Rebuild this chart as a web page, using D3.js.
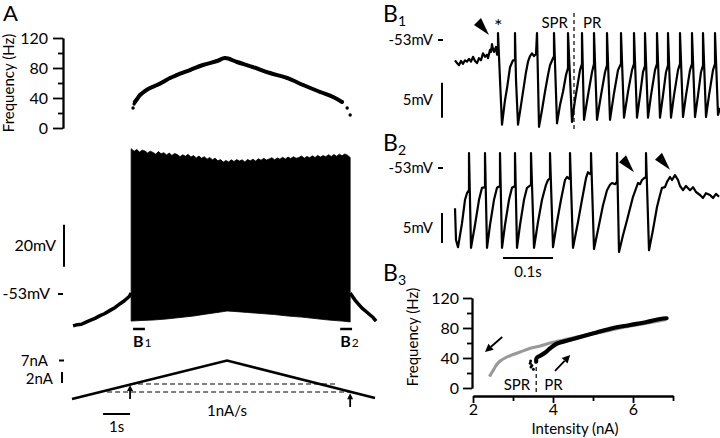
<!DOCTYPE html>
<html><head><meta charset="utf-8">
<script src="https://cdn.jsdelivr.net/npm/d3@7"></script>
<style>
body{margin:0;background:#fff}
svg{display:block}
text{font-family:Lato,"Open Sans",sans-serif;fill:#000}
</style>
</head><body>
<svg id="c" width="720" height="438"></svg>
<script>
// ================= DATA =================
// Panel A – instantaneous frequency (time s, Hz)
const freqTicks = [0, 40, 80, 120];
const freqMinorTicks = [20, 60, 100];
const aFreqT  = [2.26, 2.30, 2.33, 2.41, 2.52, 2.70, 2.89, 3.15, 3.37, 3.63, 3.89, 4.37, 4.85, 5.37, 5.67, 6.11, 6.70, 7.33, 7.96, 8.56, 9.19, 9.67, 10.0, 10.19, 10.30];
const aFreqHz = [26.7, 32, 34.7, 38.7, 44, 49.3, 53.3, 57.3, 61.3, 66.7, 70.7, 77.3, 84, 89.3, 93.3, 88, 81.3, 73.3, 66.7, 57.3, 48, 41.3, 34.7, 26.7, 17.3];
// Panel A – membrane potential (time s, mV)
const aPreT  = [0.04, 0.20, 0.35, 0.50, 0.67, 0.85, 1.04, 1.20, 1.41, 1.60, 1.78, 1.90, 2.00, 2.12, 2.19];
const aPreV  = [-68.2, -67.6, -67.4, -66.5, -65.6, -64.6, -63.3, -62.4, -60.8, -59.4, -57.6, -56.6, -55.5, -54.2, -52.5];
const aPostT = [10.30, 10.40, 10.48, 10.60, 10.74, 10.88, 11.04, 11.15, 11.26];
const aPostV = [-52.5, -54.4, -55.9, -57.7, -59.7, -61.2, -63.0, -64.2, -65.9];
const aTopT = [2.19, 2.3, 2.4, 2.5, 2.6, 2.7, 2.8, 2.9, 3.0, 3.1, 3.2, 3.3, 3.4, 3.5, 3.6, 3.7, 3.8, 3.9, 4.0, 4.1, 4.2, 4.3, 4.4, 4.5, 4.6, 4.7, 4.8, 4.9, 5.0, 5.1, 5.2, 5.3, 5.4, 5.5, 5.6, 5.7, 5.8, 5.9, 6.0, 6.1, 6.2, 6.3, 6.4, 6.5, 6.6, 6.7, 6.8, 6.9, 7.0, 7.1, 7.2, 7.3, 7.4, 7.5, 7.6, 7.7, 7.8, 7.9, 8.0, 8.1, 8.2, 8.3, 8.4, 8.5, 8.6, 8.7, 8.8, 8.9, 9.0, 9.1, 9.2, 9.3, 9.4, 9.5, 9.6, 9.7, 9.8, 9.9, 10.0, 10.1, 10.2, 10.3];
const aTopV = [16.2, 15.0, 15.8, 14.6, 15.5, 15.1, 14.2, 15.0, 14.4, 13.6, 14.8, 13.8, 14.3, 13.2, 14.1, 13.0, 13.9, 13.4, 12.4, 13.3, 12.6, 13.5, 12.2, 12.9, 11.8, 12.7, 11.6, 12.4, 11.2, 12.0, 10.9, 11.7, 10.4, 11.0, 9.8, 10.6, 9.9, 10.9, 10.1, 11.0, 10.3, 10.9, 9.9, 11.1, 10.4, 11.2, 10.3, 11.4, 10.7, 11.6, 10.8, 11.3, 11.9, 10.9, 11.8, 11.2, 12.1, 11.3, 12.2, 11.5, 12.4, 11.6, 12.0, 12.7, 11.7, 12.5, 11.9, 12.8, 12.0, 13.0, 12.2, 12.9, 12.4, 13.3, 12.5, 13.4, 12.6, 13.6, 12.8, 13.7, 13.1, 12.0];
const aBotT = [2.19, 2.6, 3.0, 3.5, 4.0, 4.5, 5.0, 5.5, 5.74, 6.0, 6.5, 7.0, 7.5, 8.0, 8.5, 9.0, 9.5, 10.0, 10.3];
const aBotV = [-65.9, -65.6, -65.4, -64.9, -64.2, -63.5, -62.5, -61.6, -61.1, -61.3, -61.8, -62.3, -62.8, -63.5, -64.0, -64.7, -65.4, -65.9, -66.3];
// Panel A – current ramp (time s, nA)
const rampT = [0, 5.74, 11.22];
const rampI = [0, 7, 0.18];
const dashT = [[2.15, 9.81], [1.30, 10.30]];
const dashI = [2.73, 1.27];
const arrowT = [2.15, 10.30];
const arrowFromI = [0, -1.45];
const arrowToI = [2.55, 1.05];
const bWindows = [[2.26, 2.70], [9.93, 10.37]];
const bWindowNames = ["B", "B"], bWindowSubs = ["1", "2"];

// Panel B1 trace (time ms, mV)
const b1T = [0,4,8,12,16,20,24,28,32,36,40,44,48,52,56,60,64,66,70,72,74,76,78,82,84,
  86,86,90,94,100,104,110,116,120,
  120,122,126,132,136,142,146,150,154,158,162,
  164,168,174,180,186,190,196,198,
  198,204,210,216,222,226,
  226,234,240,244,250,254,
  254,258,266,274,278,
  278,284,292,300,304,
  304,310,318,326,332,
  332,338,346,354,358,
  358,364,370,376,380,
  380,386,392,400,404,
  404,410,416,422,426,
  426,432,438,446,450,
  450,456,462,470,474,
  474,480,486,492,496,
  496,502,508,516,520,
  520,526,530];
const b1V = [-55.9,-56.3,-56.6,-56.0,-56.4,-55.9,-56.1,-55.7,-56.1,-55.4,-56.0,-56.3,-55.6,-55.9,-54.9,-55.4,-55.1,-55.6,-54.4,-54.7,-53.6,-54.3,-54.7,-54.0,-55.1,
  -55.1,-52.0,-58.7,-65.1,-61.6,-59.9,-56.9,-55.9,-55.9,
  -52.0,-58.7,-65.1,-62.3,-60.4,-57.6,-56.1,-55.3,-54.9,-55.3,-55.0,
  -52.0,-65.4,-63.0,-60.4,-58.0,-56.6,-55.6,-55.3,
  -52.0,-64.9,-62.3,-60.4,-58.0,-57.0,
  -52.0,-64.7,-61.6,-59.9,-57.3,-56.4,
  -52.0,-64.4,-60.9,-57.6,-56.4,
  -52.0,-64.4,-60.9,-57.6,-56.6,
  -52.0,-64.4,-60.6,-57.3,-56.4,
  -52.0,-64.1,-60.4,-57.3,-56.4,
  -52.0,-64.1,-60.9,-57.6,-56.7,
  -52.0,-64.1,-60.9,-57.3,-56.4,
  -52.0,-64.1,-60.9,-57.6,-56.6,
  -52.0,-64.1,-60.9,-57.3,-56.4,
  -52.0,-64.0,-60.9,-57.3,-56.4,
  -52.0,-64.0,-60.9,-57.6,-56.6,
  -52.0,-64.0,-60.9,-57.3,-56.4,
  -52.0,-63.7,-62.7];
// Panel B2 trace (time ms, mV)
const b2T = [0,2,6,14,20,24,28,28,
  32,40,48,54,60,60,
  64,70,78,84,90,90,
  94,100,108,114,120,120,
  124,130,138,144,152,152,
  158,166,174,182,186,190,190,
  196,204,212,220,224,228,230,230,
  236,246,254,262,266,270,272,272,
  278,288,296,304,310,314,320,324,324,
  328,336,344,356,366,370,374,378,382,382,
  388,396,404,410,414,420,424,430,434,440,446,450,456,462,470,476,482,490,496,502,510,516,522,528];
const b2V = [-59.7,-65.0,-66.2,-62.2,-58.3,-57.2,-56.7,-50.5,
  -66.3,-62.5,-58.3,-56.3,-56.2,-50.5,
  -66.3,-62.5,-58.3,-56.3,-56.0,-50.5,
  -66.3,-62.5,-58.3,-56.3,-56.0,-50.5,
  -66.3,-62.5,-58.3,-56.3,-55.8,-50.5,
  -66.3,-62.0,-58.3,-55.8,-55.0,-54.7,-50.5,
  -66.2,-62.0,-58.3,-55.0,-54.5,-54.8,-54.3,-50.5,
  -66.3,-62.0,-58.3,-54.7,-53.7,-54.0,-53.7,-50.5,
  -66.5,-62.5,-59.2,-56.7,-55.8,-55.5,-55.7,-55.3,-50.5,
  -67.0,-64.2,-61.7,-57.8,-55.5,-55.7,-55.0,-54.7,-54.5,-50.5,
  -66.7,-63.3,-59.5,-57.5,-56.3,-56.2,-55.3,-54.5,-55.0,-54.2,-55.0,-56.0,-56.7,-56.0,-56.7,-56.2,-57.0,-57.5,-58.0,-57.2,-57.5,-58.0,-57.3,-57.8];
const bArrowheadsT = [[68], [358, 430]];
const bArrowheadsV = [[-52.3], [-53.7, -53.3]];
const sprBoundaryMs = 238;

// Panel B3 – f–I relation (nA, Hz)
const b3XTicks = [2, 4, 6], b3XMinor = [3, 5, 7];
const sprI = [2.43, 2.51, 2.59, 2.68, 2.80, 2.97, 3.18, 3.43, 3.68, 4.00, 4.43, 4.84, 5.26, 5.68, 6.09, 6.51, 6.80];
const sprHz = [17, 24, 31, 36, 40, 44, 48, 53, 56, 61, 66, 71, 75, 80, 84, 88, 91];
const prStartI = [3.43, 3.45, 3.51, 3.44, 3.47];
const prStartHz = [33, 28, 25, 36, 30];
const prI = [3.58, 3.59, 3.68, 3.80, 3.93, 4.09, 4.34, 4.68, 5.09, 5.51, 5.93, 6.34, 6.68, 6.84];
const prHz = [35, 40, 43, 47, 53, 59, 63, 68, 74, 80, 84, 88, 92, 93];
const b3Arrows = [[[2.73, 68], [2.30, 48]], [[4.05, 23], [4.43, 44]]];
const b3Boundary = 3.58;

// ================= DRAW =================
const svg = d3.select("#c");
const FS = 15, NFS = 16;

// ---------- Panel A ----------
const xA = d3.scaleLinear([0, 11.22], [72, 375]);
const yF = d3.scaleLinear([0, 120], [128, 38]);
const yV = d3.scaleLinear([-53, -33], [294, 252]);
const yI = d3.scaleLinear([0, 7], [399, 360.5]);

svg.append("text").attr("x", 3).attr("y", 21).attr("font-size", 22).text("A");

const gFA = svg.append("g").attr("transform", "translate(63,0)");
gFA.call(d3.axisLeft(yF).tickValues(freqTicks).tickSize(10).tickSizeOuter(0).tickPadding(5));
gFA.append("g").call(d3.axisLeft(yF).tickValues(freqMinorTicks).tickSize(5).tickFormat("").tickSizeOuter(0));
gFA.selectAll("path,line").attr("stroke", "#000").attr("stroke-width", 1.8);
gFA.selectAll("text").attr("font-size", NFS).attr("font-family", "Lato").attr("fill", "#000");
svg.append("text").attr("transform", "translate(14,83) rotate(-90)").attr("text-anchor", "middle")
  .attr("font-size", FS).text("Frequency (Hz)");

const freqPts = aFreqT.map((t, i) => [xA(t), yF(aFreqHz[i])]);
svg.append("path").attr("d", d3.line().curve(d3.curveCatmullRom)(freqPts.slice(2, 23)))
  .attr("fill", "none").attr("stroke", "#000").attr("stroke-width", 4).attr("stroke-linecap", "round");
svg.selectAll(".fdot").data(freqPts).join("circle").attr("cx", d => d[0]).attr("cy", d => d[1]).attr("r", 1.7);

// spike block envelope
const env = aTopT.map((t, i) => [xA(t), yV(aTopV[i])])
  .concat(aBotT.map((t, i) => [xA(t), yV(aBotV[i])]).reverse());
svg.append("path").attr("d", d3.line()(env) + "Z").attr("fill", "#000").attr("stroke", "#000").attr("stroke-width", 0.8);
const traceLine = d3.line();
svg.append("path").attr("d", traceLine(aPreT.map((t, i) => [xA(t), yV(aPreV[i])])))
  .attr("fill", "none").attr("stroke", "#000").attr("stroke-width", 3.5).attr("stroke-linejoin", "round");
svg.append("path").attr("d", traceLine(aPostT.map((t, i) => [xA(t), yV(aPostV[i])])))
  .attr("fill", "none").attr("stroke", "#000").attr("stroke-width", 3.5).attr("stroke-linejoin", "round");

// 20 mV bar and -53 mV marker
svg.append("line").attr("x1", 64).attr("x2", 64).attr("y1", yV(-40)).attr("y2", yV(-20)).attr("stroke", "#000").attr("stroke-width", 2);
svg.append("text").attr("x", 56).attr("y", (yV(-40) + yV(-20)) / 2 + 5).attr("text-anchor", "end").attr("font-size", NFS).text("20mV");
svg.append("text").attr("x", 50).attr("y", yV(-53) + 5).attr("text-anchor", "end").attr("font-size", NFS).text("-53mV");
svg.append("line").attr("x1", 58).attr("x2", 63).attr("y1", yV(-53)).attr("y2", yV(-53)).attr("stroke", "#000").attr("stroke-width", 2);

// B windows
bWindows.forEach((w, i) => {
  svg.append("line").attr("x1", xA(w[0])).attr("x2", xA(w[1])).attr("y1", 329).attr("y2", 329).attr("stroke", "#000").attr("stroke-width", 2.5);
  const t = svg.append("text").attr("x", xA(w[0])).attr("y", 347).attr("font-size", 16).attr("font-weight", "bold").text(bWindowNames[i]);
  t.append("tspan").attr("font-size", 12).attr("font-weight", "normal").attr("dx", 1).text(bWindowSubs[i]);
});

// current ramp
svg.append("path").attr("d", d3.line()(rampT.map((t, i) => [xA(t), yI(rampI[i])])))
  .attr("fill", "none").attr("stroke", "#000").attr("stroke-width", 2.6).attr("stroke-linejoin", "miter");
dashT.forEach((d, i) => {
  svg.append("line").attr("x1", xA(d[0])).attr("x2", xA(d[1])).attr("y1", yI(dashI[i])).attr("y2", yI(dashI[i]))
    .attr("stroke", "#000").attr("stroke-width", 1.2).attr("stroke-dasharray", "5,3");
});
arrowT.forEach((t, i) => {
  const x = xA(t), y0 = yI(arrowFromI[i]), y1 = yI(arrowToI[i]);
  svg.append("line").attr("x1", x).attr("x2", x).attr("y1", y0).attr("y2", y1 + 4).attr("stroke", "#000").attr("stroke-width", 1.8);
  svg.append("path").attr("d", `M${x},${y1} L${x - 3},${y1 + 6} L${x + 3},${y1 + 6} Z`).attr("fill", "#000");
});
svg.append("text").attr("x", 48).attr("y", yI(7) + 5).attr("text-anchor", "end").attr("font-size", FS).text("7nA");
svg.append("line").attr("x1", 59).attr("x2", 64).attr("y1", yI(7)).attr("y2", yI(7)).attr("stroke", "#000").attr("stroke-width", 2);
svg.append("text").attr("x", 53).attr("y", yI(2.9) + 1).attr("text-anchor", "end").attr("font-size", FS).text("2nA");
svg.append("line").attr("x1", 62).attr("x2", 62).attr("y1", yI(4.9)).attr("y2", yI(2.9)).attr("stroke", "#000").attr("stroke-width", 2);
svg.append("text").attr("x", xA(5.74)).attr("y", 416).attr("text-anchor", "middle").attr("font-size", FS).text("1nA/s");
svg.append("line").attr("x1", xA(1.15)).attr("x2", xA(2.15)).attr("y1", 414).attr("y2", 414).attr("stroke", "#000").attr("stroke-width", 2);
svg.append("text").attr("x", xA(1.65)).attr("y", 432).attr("text-anchor", "middle").attr("font-size", FS).text("1s");

// ---------- Panel B1 / B2 ----------
const xB = d3.scaleLinear([0, 530], [455, 720]);
const yB1 = d3.scaleLinear([-53, -48], [40, 5]);
const yB2 = d3.scaleLinear([-53, -48], [168, 138]);

function bLabel(x, y, sub) {
  const t = svg.append("text").attr("x", x).attr("y", y).attr("font-size", 23).text("B");
  t.append("tspan").attr("font-size", 14).attr("dy", 4).text(sub);
}
bLabel(383, 22, "1");
bLabel(383, 151, "2");
bLabel(383, 281, "3");

[[yB1, b1T, b1V, 0], [yB2, b2T, b2V, 1]].forEach(([ys, T, V, k]) => {
  svg.append("path").attr("d", d3.line()(T.map((t, i) => [xB(t), ys(V[i])])))
    .attr("fill", "none").attr("stroke", "#000").attr("stroke-width", 2.2).attr("stroke-linejoin", "round");
  svg.append("text").attr("x", 433).attr("y", ys(-53) + 5).attr("text-anchor", "end").attr("font-size", FS).text("-53mV");
  svg.append("line").attr("x1", 438).attr("x2", 443).attr("y1", ys(-53)).attr("y2", ys(-53)).attr("stroke", "#000").attr("stroke-width", 2);
  const top = k === 0 ? -59.1 : -60.5;
  svg.append("line").attr("x1", 442).attr("x2", 442).attr("y1", ys(top)).attr("y2", ys(top - 5)).attr("stroke", "#000").attr("stroke-width", 2);
  svg.append("text").attr("x", 433).attr("y", (ys(top) + ys(top - 5)) / 2 + 5).attr("text-anchor", "end").attr("font-size", FS).text("5mV");
  bArrowheadsT[k].forEach((t, j) => {
    const x = xB(t), y = ys(bArrowheadsV[k][j]);
    svg.append("path").attr("d", `M${x},${y} L${x - 15},${y - 10} L${x - 8},${y - 17} Z`).attr("fill", "#000");
  });
});
// SPR | PR in B1
svg.append("line").attr("x1", xB(sprBoundaryMs)).attr("x2", xB(sprBoundaryMs)).attr("y1", 13).attr("y2", 131)
  .attr("stroke", "#000").attr("stroke-width", 1.2).attr("stroke-dasharray", "4,3");
svg.append("text").attr("x", xB(sprBoundaryMs) - 6).attr("y", 28).attr("text-anchor", "end").attr("font-size", FS).text("SPR");
svg.append("text").attr("x", xB(sprBoundaryMs) + 9).attr("y", 28).attr("font-size", FS).text("PR");
svg.append("text").attr("x", 494).attr("y", 33).attr("font-size", 20).text("*");
// 0.1 s bar
svg.append("line").attr("x1", xB(96)).attr("x2", xB(196)).attr("y1", 258).attr("y2", 258).attr("stroke", "#000").attr("stroke-width", 2);
svg.append("text").attr("x", xB(146)).attr("y", 277).attr("text-anchor", "middle").attr("font-size", FS).text("0.1s");

// ---------- Panel B3 ----------
const xI = d3.scaleLinear([2, 7], [473, 673]);
const yF3 = d3.scaleLinear([0, 120], [388, 298]);
const gY3 = svg.append("g").attr("transform", "translate(472,0)");
gY3.call(d3.axisLeft(yF3).tickValues(freqTicks).tickSize(9).tickSizeOuter(0).tickPadding(4));
gY3.append("g").call(d3.axisLeft(yF3).tickValues(freqMinorTicks).tickSize(5).tickFormat("").tickSizeOuter(0));
const gX3 = svg.append("g").attr("transform", "translate(0,396)");
gX3.call(d3.axisBottom(xI).tickValues(b3XTicks).tickFormat(d3.format("d")).tickSize(7).tickSizeOuter(0).tickPadding(1));
gX3.append("g").call(d3.axisBottom(xI).tickValues(b3XMinor).tickSize(5).tickFormat("").tickSizeOuter(0));
[gY3, gX3].forEach(g => {
  g.selectAll("path,line").attr("stroke", "#000").attr("stroke-width", 1.8);
  g.selectAll("text").attr("font-size", NFS).attr("font-family", "Lato").attr("fill", "#000");
});
svg.append("text").attr("transform", "translate(418,337) rotate(-90)").attr("text-anchor", "middle").attr("font-size", FS).text("Frequency (Hz)");
svg.append("text").attr("x", 575).attr("y", 434).attr("text-anchor", "middle").attr("font-size", FS).text("Intensity (nA)");

const sprPts = sprI.map((v, i) => [xI(v), yF3(sprHz[i])]);
svg.append("path").attr("d", d3.line().curve(d3.curveCatmullRom)(sprPts)).attr("fill", "none")
  .attr("stroke", "#999").attr("stroke-width", 3).attr("stroke-linecap", "round");
svg.selectAll(".sdot").data(sprPts.slice(0, 4)).join("circle").attr("cx", d => d[0]).attr("cy", d => d[1]).attr("r", 1.6).attr("fill", "#999");
const prPts = prI.map((v, i) => [xI(v), yF3(prHz[i])]);
svg.append("path").attr("d", d3.line().curve(d3.curveCatmullRom)(prPts)).attr("fill", "none")
  .attr("stroke", "#000").attr("stroke-width", 4.2).attr("stroke-linecap", "round");
svg.selectAll(".pdot").data(prStartI.map((v, i) => [xI(v), yF3(prStartHz[i])])).join("circle")
  .attr("cx", d => d[0]).attr("cy", d => d[1]).attr("r", 1.5).attr("fill", "#000");
svg.append("line").attr("x1", xI(b3Boundary)).attr("x2", xI(b3Boundary)).attr("y1", 367).attr("y2", 392)
  .attr("stroke", "#000").attr("stroke-width", 1.2).attr("stroke-dasharray", "4,3");
svg.append("text").attr("x", xI(b3Boundary) - 6).attr("y", 390).attr("text-anchor", "end").attr("font-size", FS).text("SPR");
svg.append("text").attr("x", xI(b3Boundary) + 8).attr("y", 390).attr("font-size", FS).text("PR");
b3Arrows.forEach(a => {
  const [x0, y0] = [xI(a[0][0]), yF3(a[0][1])], [x1, y1] = [xI(a[1][0]), yF3(a[1][1])];
  const ang = Math.atan2(y1 - y0, x1 - x0);
  const hx = x1 - 8 * Math.cos(ang), hy = y1 - 8 * Math.sin(ang);
  svg.append("line").attr("x1", x0).attr("y1", y0).attr("x2", hx).attr("y2", hy).attr("stroke", "#000").attr("stroke-width", 1.8);
  const px = -Math.sin(ang) * 4, py = Math.cos(ang) * 4;
  svg.append("path").attr("d", `M${x1},${y1} L${hx + px},${hy + py} L${hx - px},${hy - py} Z`).attr("fill", "#000");
});
</script>
</body></html>
